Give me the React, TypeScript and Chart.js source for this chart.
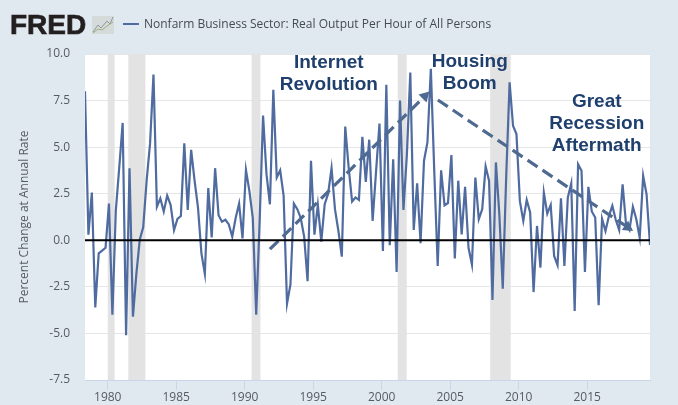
import React, { useEffect, useRef } from "react";
import { Chart, registerables } from "chart.js";

Chart.register(...registerables);

const seriesName = "Nonfarm Business Sector: Real Output Per Hour of All Persons";
const axisTitle = "Percent Change at Annual Rate";
const firstQuarter = 1978.34;
const lastYear = 2019.59;
const xTicks = [1980, 1985, 1990, 1995, 2000, 2005, 2010, 2015];

const productivity = [
  8.0, 0.3, 2.56, -3.6, -0.7, -0.55, -0.4, 1.97, -4.0, 1.6, 3.9, 6.3, -5.1, 3.87, -4.1, -1.8,
  0.05, 0.7, 3.2, 5.2, 8.9, 1.8, 2.25, 1.55, 2.4, 1.9, 0.55, 1.15, 1.3, 5.2, 1.63, 4.85,
  3.2, 1.75, -0.7, -1.8, 2.8, 0.15, 3.87, 1.35, 1.0, 1.1, 0.85, 0.2, 1.2, 1.97, 0.1, 3.78,
  2.65, 1.2, -4.0, 1.0, 6.7, 3.55, 1.93, 8.08, 3.37, 3.76, 2.4, -3.4, -2.37, 1.97, 1.67, 1.2,
  0.2, -2.2, 4.27, 0.3, 1.9, -0.07, 1.94, 2.5, 3.87, 1.67, 0.5, -0.88, 6.1, 3.9, 2.08, 2.3,
  2.17, 5.55, 3.14, 5.4, 1.04, 3.7, 6.27, -0.57, 8.35, -0.27, 4.35, -1.7, 7.5, 1.63, 4.6, 9.0,
  0.55, 3.06, -0.16, 4.27, 5.25, 9.2, 3.7, -1.38, 3.76, 1.88, 2.0, 4.57, -0.97, 3.2, 0.32, 2.87,
  -0.4, -1.3, 3.37, 1.13, 1.67, 3.96, 3.2, -3.2, 4.18, 1.4, -2.6, 3.4, 8.48, 6.15, 5.7, 2.1,
  1.04, 2.17, 1.5, -2.78, 0.77, -1.47, 2.56, 1.43, 1.9, -0.84, -1.33, 2.26, -1.38, 2.3, 3.05, -3.8,
  4.08, 3.73, -1.7, 2.87, 1.55, 1.22, -3.48, 1.16, 0.5, 1.3, 1.85, 1.1, 0.55, 3.0, 0.86, 0.55,
  1.8, 1.13, 0.14, 3.46, 2.47, -0.25,
];

const recessionStarts = [1980.0, 1981.5, 1990.5, 2001.17, 2007.92];
const recessionEnds = [1980.5, 1982.75, 1991.15, 2001.83, 2009.42];

const arrowUpX = [1991.84, 2003.15];
const arrowUpY = [-0.48, 7.74];
const arrowDownX = [2004.1, 2017.96];
const arrowDownY = [7.53, 0.7];

const noteLines = [
  ["Internet", 1996.14, 9.55],
  ["Revolution", 1996.14, 8.37],
  ["Housing", 2006.43, 9.58],
  ["Boom", 2006.43, 8.42],
  ["Great", 2015.7, 7.43],
  ["Recession", 2015.7, 6.25],
  ["Aftermath", 2015.7, 5.08],
] as const;

const LINE = "#4f6b9f";
const ARROW = "#4f6a91";
const NOTE = "#1f3f6e";
const TEXT = "#555b63";
const BG = "#e1e9f0";

const overlays = {
  id: "overlays",
  beforeDraw(chart: any) {
    const { ctx, chartArea: a } = chart;
    ctx.save();
    ctx.fillStyle = "#ffffff";
    ctx.fillRect(a.left, a.top, a.width, a.height);
    ctx.restore();
  },
  beforeDatasetsDraw(chart: any) {
    const { ctx, chartArea: a, scales } = chart;
    ctx.save();
    ctx.fillStyle = "#e3e3e3";
    recessionStarts.forEach((s, i) => {
      const x0 = scales.x.getPixelForValue(s);
      const x1 = scales.x.getPixelForValue(recessionEnds[i]);
      ctx.fillRect(x0, a.top, x1 - x0, a.height);
    });
    ctx.restore();
  },
  afterDatasetsDraw(chart: any) {
    const { ctx, scales } = chart;
    ctx.save();
    ctx.fillStyle = NOTE;
    ctx.font = "bold 19px 'Liberation Sans', Arial, sans-serif";
    ctx.textAlign = "center";
    ctx.textBaseline = "middle";
    noteLines.forEach(([t, x, y]) => {
      ctx.fillText(t, scales.x.getPixelForValue(x), scales.y.getPixelForValue(y));
    });
    ctx.restore();
  },
};

const arrowSet = (xs: number[], ys: number[], angle: number) => ({
  type: "line",
  data: xs.map((x, i) => ({ x, y: ys[i] })),
  borderColor: ARROW,
  backgroundColor: ARROW,
  borderWidth: 3.2,
  borderDash: [12, 6],
  pointStyle: "triangle",
  pointRadius: [0, 6.5],
  pointBorderWidth: 0,
  pointRotation: angle,
  tension: 0,
  order: 1,
});

export default function App() {
  const ref = useRef<HTMLCanvasElement>(null);
  useEffect(() => {
    document.body.style.margin = "0";
    const chart = new Chart(ref.current as HTMLCanvasElement, {
      type: "line",
      data: {
        datasets: [
          {
            data: productivity.map((y, i) => ({ x: firstQuarter + i * 0.25, y })),
            borderColor: LINE,
            borderWidth: 2.2,
            pointRadius: 0,
            tension: 0,
            order: 2,
          },
          arrowSet(arrowUpX, arrowUpY, 45),
          arrowSet(arrowDownX, arrowDownY, 124),
          {
            data: [
              { x: firstQuarter, y: 0 },
              { x: lastYear, y: 0 },
            ],
            borderColor: "#000000",
            borderWidth: 2,
            pointRadius: 0,
            order: 0,
          },
        ] as any,
      },
      options: {
        responsive: false,
        animation: false,
        layout: { padding: { top: 54, right: 28, left: 0, bottom: 0 } },
        plugins: { legend: { display: false }, tooltip: { enabled: false } },
        scales: {
          x: {
            type: "linear",
            min: firstQuarter,
            max: lastYear,
            afterFit(s: any) {
              s.height = 25;
            },
            afterBuildTicks(s: any) {
              s.ticks = xTicks.map((value) => ({ value }));
            },
            grid: { drawOnChartArea: false, color: "#ccd6eb", tickLength: 10, tickColor: "#ccd6eb" },
            border: { color: "#ccd6eb" },
            ticks: {
              maxRotation: 0,
              autoSkip: false,
              padding: 0,
              color: TEXT,
              font: { family: "'Open Sans', sans-serif", size: 12 },
              callback: (v: any) => String(v),
            },
          },
          y: {
            min: -7.5,
            max: 10,
            afterFit(s: any) {
              s.width = 85;
            },
            grid: { color: "#e4e6e8", lineWidth: 1, drawTicks: false },
            border: { display: false },
            title: {
              display: true,
              text: axisTitle,
              color: TEXT,
              padding: { top: 17, bottom: 0 },
              font: { family: "'Open Sans', sans-serif", size: 12 },
            },
            ticks: {
              stepSize: 2.5,
              padding: 15,
              color: TEXT,
              font: { family: "'Open Sans', sans-serif", size: 12 },
              callback: (v: any) => Number(v).toFixed(1),
            },
          },
        },
      },
      plugins: [overlays],
    } as any);
    return () => chart.destroy();
  }, []);

  return (
    <div style={{ position: "absolute", left: 0, top: 0, width: 678, height: 405, background: BG, overflow: "hidden" }}>
      <canvas ref={ref} width={678} height={405} style={{ display: "block", position: "absolute", left: 0, top: 0 }} />
      <div
        style={{
          position: "absolute",
          left: 10,
          top: 9,
          fontFamily: "'Liberation Sans', Arial, sans-serif",
          fontWeight: 700,
          fontSize: 28,
          lineHeight: "32px",
          color: "#231f20",
          WebkitTextStroke: "0.7px #231f20",
        }}
      >
        FRED
      </div>
      <svg style={{ position: "absolute", left: 92, top: 15 }} width={22} height={20}>
        <rect x={0} y={1} width={22} height={18} fill="#d5dadb" />
        <polyline points="1,17 6,10 9,13 15,6 18,9 21,2" fill="none" stroke="#8b9a9b" strokeWidth={1} />
        <polyline points="1,18 6,14 10,15 15,11 21,7" fill="none" stroke="#a4ad7e" strokeWidth={1} />
      </svg>
      <div style={{ position: "absolute", left: 123, top: 23, width: 16, height: 2, background: LINE }} />
      <div
        style={{
          position: "absolute",
          left: 144,
          top: 15,
          fontFamily: "'Open Sans', sans-serif",
          fontSize: 12,
          lineHeight: "18px",
          color: "#444b52",
          whiteSpace: "nowrap",
        }}
      >
        {seriesName}
      </div>
    </div>
  );
}
